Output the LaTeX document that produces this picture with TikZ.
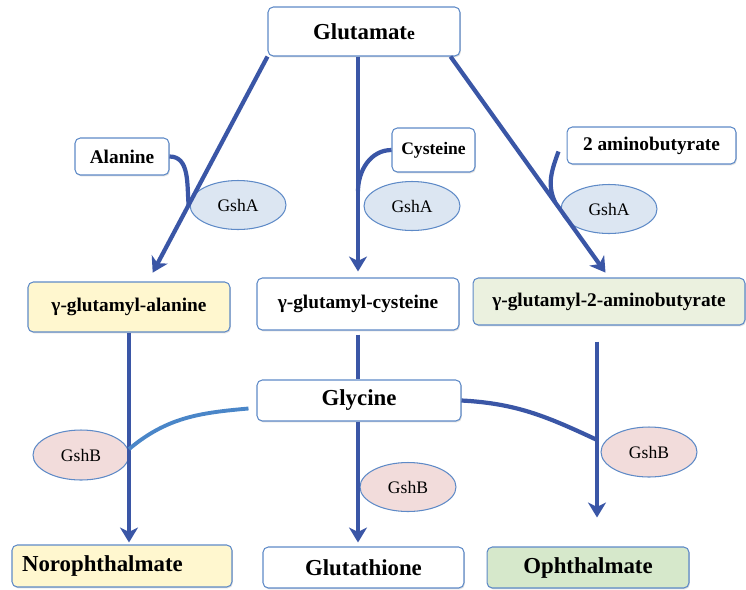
\documentclass[tikz,border=0pt]{standalone}
\usepackage{fontspec}
\setmainfont{Liberation Serif}
\usetikzlibrary{arrows.meta,shapes.geometric,calc,shadows}

\definecolor{flow}{HTML}{3A56A6}
\definecolor{flowlight}{HTML}{4A86C8}
\definecolor{frame}{HTML}{5E8AC7}
\definecolor{yel}{HTML}{FFF7CF}
\definecolor{grnlight}{HTML}{EBF1DF}
\definecolor{grn}{HTML}{D6E8CB}
\definecolor{fillA}{HTML}{DCE6F2}
\definecolor{fillB}{HTML}{F2DCDB}

\tikzset{
  box/.style={draw=frame, line width=0.6pt, rounded corners=3pt, fill=white,
              inner sep=0pt, font=\bfseries\fontsize{11}{13}\selectfont,
              drop shadow={shadow xshift=0.5pt, shadow yshift=-0.8pt, opacity=0.25}},
  bigbox/.style={box, font=\bfseries\fontsize{13}{15}\selectfont},
  enz/.style={ellipse, draw=frame, line width=0.6pt, inner sep=0pt,
              minimum width=1.92cm, minimum height=0.98cm,
              font=\fontsize{10}{12}\selectfont},
  flowline/.style={draw=flow, line width=2.4pt}
}

\begin{document}
\begin{tikzpicture}[x=0.02cm, y=-0.02cm, >={Stealth[length=3mm,width=3.6mm,inset=0.9mm]}]
  \useasboundingbox (0,0) rectangle (746,589);

  % substrates
  \node (glu) at (364,31.5) [bigbox, minimum width=3.84cm, minimum height=0.98cm]
        {Glutamat{\fontsize{10}{12}\selectfont e}};
  \node (ala) at (122,156.5) [box, minimum width=1.88cm, minimum height=0.74cm] {Alanine};
  \node (cys) at (433.5,150) [box, minimum width=1.66cm, minimum height=0.88cm,
        font=\bfseries\fontsize{10}{12}\selectfont] {Cysteine};
  \node (abu) at (651.5,145.5) [box, minimum width=3.38cm, minimum height=0.74cm] {2 aminobutyrate};

  % intermediates
  \node (gala) at (129,307) [box, fill=yel, minimum width=4.04cm, minimum height=1.0cm] {γ-glutamyl-alanine};
  \node (gcys) at (358,304) [box, minimum width=4.04cm, minimum height=1.04cm] {γ-glutamyl-cysteine};
  \node (g2ab) at (609,301.5) [box, fill=grnlight, minimum width=5.44cm, minimum height=0.94cm] {γ-glutamyl-2-aminobutyrate};
  \node (gly) at (359,400.5) [bigbox, minimum width=4.08cm, minimum height=0.82cm] {Glycine};

  % products
  \node (noro) at (122,566) [bigbox, fill=yel, minimum width=4.4cm, minimum height=0.84cm,
        text width=4.0cm, align=left] {Norophthalmate};
  \node (glt) at (363.5,567.5) [bigbox, minimum width=4.02cm, minimum height=0.82cm] {Glutathione};
  \node (oph) at (588,567.5) [bigbox, fill=grn, minimum width=4.04cm, minimum height=0.82cm] {Ophthalmate};

  % enzymes
  \node (gshA1) at (238,205) [enz, fill=fillA] {GshA};
  \node (gshA2) at (412,206) [enz, fill=fillA] {GshA};
  \node (gshA3) at (609,209) [enz, fill=fillA] {GshA};
  \node (gshB1) at (81,455) [enz, fill=fillB, minimum height=1.0cm] {GshB};
  \node (gshB2) at (408,487) [enz, fill=fillB] {GshB};
  \node (gshB3) at (649,452) [enz, fill=fillB, minimum height=1.0cm] {GshB};

  \coordinate (abuin) at ($(abu.west)+(-8,6)$);
  \coordinate (glyw) at ($(gly.west)+(-8,8)$);
  \coordinate (r1) at ($(g2ab.south)+(-12,16)$);

  % GshA steps
  \draw [flowline,->,shorten >=0.2cm] (glu.south west) -- coordinate[pos=0.66] (jala) ($(gala.north)+(19,0)$);
  \draw [flowline,->,shorten >=0.12cm] (gcys.north |- glu.south) -- coordinate[pos=0.61] (jcys) (gcys.north);
  \draw [flowline,->,shorten >=0.12cm] ($(glu.south east)+(-10,0)$) -- coordinate[pos=0.66] (jabu) (g2ab.north);
  \draw [flowline] (ala.east) to[out=0,in=95] (jala);
  \draw [flowline] (cys.west) to[out=180,in=90] (jcys);
  \draw [flowline] (abuin) to[out=250,in=115] (jabu);

  % GshB steps
  \draw [flowline,->,shorten >=0.04cm] (gala.south) -- coordinate[pos=0.55] (jnor) (gala.south |- noro.north);
  \draw [flowline,shorten <=0.08cm] (gcys.south) -- (gcys.south |- gly.north);
  \draw [flowline,->,shorten >=0.08cm] (gcys.south |- gly.south) -- (gcys.south |- glt.north);
  \draw [flowline,->,shorten >=0.58cm] (r1) -- coordinate[pos=0.48] (joph) (r1 |- oph.north);
  \draw [draw=flowlight, line width=2.2pt] (glyw) to[out=185,in=40] (jnor);
  \draw [flowline] (gly.east) to[out=-3,in=155] (joph);
\end{tikzpicture}
\end{document}
